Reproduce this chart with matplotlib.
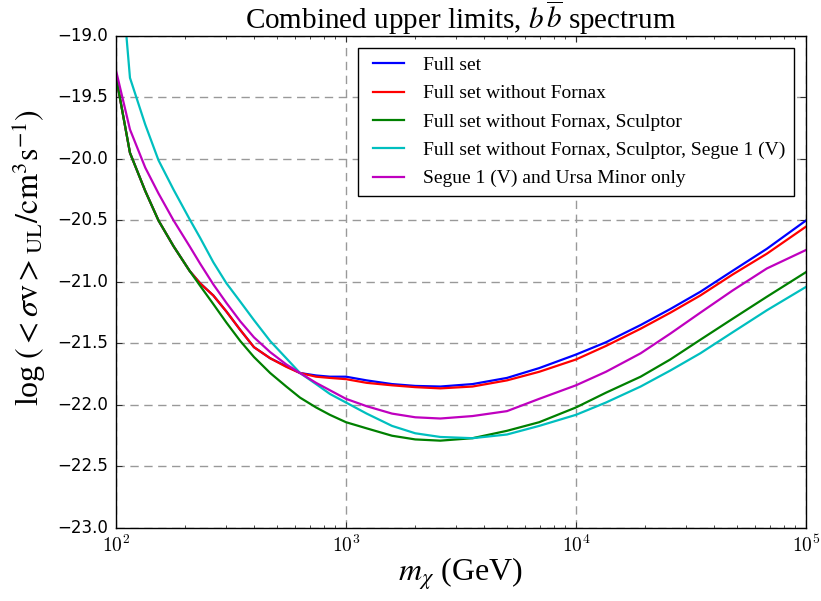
import matplotlib
matplotlib.use("Agg")
import numpy as np
import matplotlib.pyplot as plt
from matplotlib.ticker import FuncFormatter

plt.style.use("classic")
plt.rcParams["mathtext.fontset"] = "cm"

# Dark-matter mass grid (GeV)
mass = [100, 115, 134, 153, 178, 209, 232, 265, 302, 347, 398, 468, 550, 631,
        741, 851, 1000, 1230, 1585, 2000, 2570, 3550, 5010, 6920, 10000, 13500,
        19100, 25700, 34700, 47900, 67600, 100000]

# log10 of the combined <sigma v> upper limits (cm^3 s^-1)
full_set = [-19.33, -19.95, -20.26, -20.50, -20.71, -20.91, -21.01, -21.11,
            -21.24, -21.39, -21.53, -21.62, -21.685, -21.74, -21.76, -21.77,
            -21.77, -21.80, -21.83, -21.845, -21.85, -21.83, -21.78, -21.70,
            -21.59, -21.49, -21.35, -21.22, -21.08, -20.91, -20.73, -20.50]
no_fornax = [-19.33, -19.95, -20.26, -20.50, -20.71, -20.91, -21.01, -21.11,
             -21.24, -21.39, -21.53, -21.62, -21.69, -21.74, -21.77, -21.78,
             -21.79, -21.82, -21.84, -21.855, -21.865, -21.85, -21.80, -21.73,
             -21.63, -21.52, -21.38, -21.25, -21.11, -20.94, -20.77, -20.55]
no_fornax_sculptor = [-19.33, -19.95, -20.26, -20.50, -20.71, -20.91, -21.03,
                      -21.18, -21.33, -21.48, -21.61, -21.74, -21.85, -21.94,
                      -22.02, -22.08, -22.14, -22.19, -22.25, -22.28, -22.29,
                      -22.27, -22.21, -22.14, -22.02, -21.90, -21.77, -21.63,
                      -21.47, -21.30, -21.12, -20.92]
no_fornax_sculptor_segue = [-18.00, -19.34, -19.72, -20.01, -20.25, -20.49,
                            -20.64, -20.84, -21.01, -21.16, -21.31, -21.48,
                            -21.62, -21.74, -21.83, -21.91, -21.98, -22.07,
                            -22.17, -22.23, -22.26, -22.27, -22.24, -22.17,
                            -22.08, -21.98, -21.85, -21.72, -21.58, -21.41,
                            -21.23, -21.04]
segue_ursa = [-19.28, -19.76, -20.07, -20.28, -20.50, -20.71, -20.85, -21.02,
              -21.17, -21.32, -21.45, -21.57, -21.67, -21.74, -21.82, -21.88,
              -21.95, -22.01, -22.07, -22.10, -22.11, -22.09, -22.05, -21.95,
              -21.84, -21.73, -21.58, -21.42, -21.25, -21.07, -20.89, -20.74]

labels = ["Full set",
          "Full set without Fornax",
          "Full set without Fornax, Sculptor",
          "Full set without Fornax, Sculptor, Segue 1 (V)",
          "Segue 1 (V) and Ursa Minor only"]
colors = ["b", "r", "g", "c", "m"]
series = [full_set, no_fornax, no_fornax_sculptor, no_fornax_sculptor_segue,
          segue_ursa]

serif = "Liberation Serif"

fig = plt.figure(figsize=(8.21, 6.01), dpi=100, facecolor="white")
ax = fig.add_axes([0.1413, 0.1215, 0.8404, 0.8186])

for y, c, lab in zip(series, colors, labels):
    ax.plot(mass, y, color=c, lw=1.6, label=lab)

ax.set_xscale("log")
ax.set_xlim(1e2, 1e5)
ax.set_ylim(-23.0, -19.0)
ax.set_yticks([-23.0, -22.5, -22.0, -21.5, -21.0, -20.5, -20.0, -19.5, -19.0])

# Decade labels typeset as 10^n
ax.xaxis.set_major_formatter(
    FuncFormatter(lambda v, pos: r"$10^{%d}$" % int(round(np.log10(v)))))

ax.grid(True, which="major", color="#999999", linestyle=(0, (6, 4)), lw=1.0)
ax.set_axisbelow(True)
ax.tick_params(axis="both", which="major", labelsize=12, pad=6)
ax.tick_params(axis="x", which="major", labelsize=14, pad=5)

ax.set_title(r"Combined upper limits, $b\,\overline{b}$ spectrum",
             fontsize=21, family=serif, math_fontfamily="stix")
ax.set_xlabel(r"$m_\chi$ (GeV)", fontsize=23, family=serif,
              math_fontfamily="stix", labelpad=0)
ax.set_ylabel(r"log$\;(<\sigma\mathrm{v}>_{\mathrm{UL}}/\mathrm{cm}^3\mathrm{s}^{-1})$",
              fontsize=23, family=serif, math_fontfamily="stix")
ax.yaxis.set_label_coords(-0.098, 0.55)

leg = ax.legend(loc="upper right", prop={"family": serif, "size": 14},
                handlelength=2.2, handletextpad=0.7, borderaxespad=0.6,
                labelspacing=0.55, borderpad=0.45, fancybox=False)
leg.get_frame().set_edgecolor("black")
for h in leg.get_lines():
    h.set_linewidth(1.6)

fig.savefig("out.png", dpi=100, facecolor="white")
